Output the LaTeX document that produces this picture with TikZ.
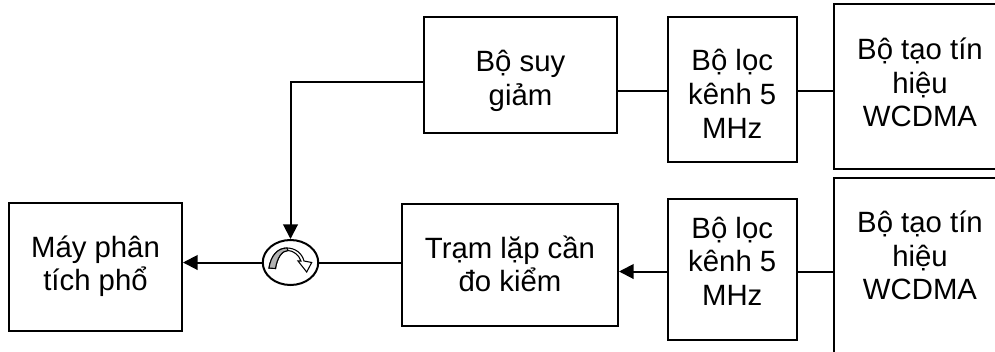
\documentclass[tikz,border=0pt]{standalone}
\usepackage{fontspec}
\setmainfont{Liberation Sans}
\usetikzlibrary{arrows.meta,shapes.geometric}
\def\px{0.75pt}
% lines of a box, first baseline #1 above the centre of the box
\newcommand{\blocktext}[2]{\raisebox{#1}[0pt][0pt]{\begin{tabular}[t]{@{}c@{}}#2\end{tabular}}}
\tikzset{
  blockbox/.style={draw, line width=1.5pt, inner sep=0pt, font=\fontsize{22}{25.3}\selectfont},
  conn/.style={line width=1.5pt},
  connarrow/.style={conn, -{Triangle[length=11pt,width=11pt]}}
}
\begin{document}
\begin{tikzpicture}[x=0.75pt,y=-0.75pt]
\useasboundingbox (0,0) rectangle (995,351);
\node[blockbox, minimum width=173*\px, minimum height=128*\px] (mach) at (95.5,267) {\blocktext{7.5pt}{Máy phân\\tích phổ}};
\node[blockbox, minimum width=216*\px, minimum height=122*\px] (tram) at (510,265) {\blocktext{5.25pt}{Trạm lặp cần\\đo kiểm}};
\node[blockbox, minimum width=193*\px, minimum height=116*\px] (suy) at (520.5,75) {\blocktext{2.4pt}{Bộ suy\\giảm}};
\node[blockbox, minimum width=129.5*\px, minimum height=145*\px] (filtA) at (732.25,89.5) {\blocktext{13.9pt}{Bộ lọc\\kênh 5\\MHz}};
\node[blockbox, minimum width=129.5*\px, minimum height=141*\px] (filtB) at (732.25,269.5) {\blocktext{23.6pt}{Bộ lọc\\kênh 5\\MHz}};
\node[blockbox, minimum width=172*\px, minimum height=165*\px] (genA) at (920,86.5) {\blocktext{20.4pt}{Bộ tạo tín\\hiệu\\WCDMA}};
\node[blockbox, minimum width=172*\px, minimum height=182*\px] (genB) at (920,269) {\blocktext{27.4pt}{Bộ tạo tín\\hiệu\\WCDMA}};
\node[draw, ellipse, line width=1.5pt, inner sep=0pt, minimum width=55.5*\px, minimum height=45*\px] (circ) at (290.5,262.5) {};
% circulator arrow
\draw[line width=0.8pt, fill=white] (269,268) .. controls (271,255) and (278,248) .. (287,248) .. controls (295,248) and (302,253) .. (304,261) -- (311.7,262.5) -- (306.7,272) -- (298,261) -- (301,261) .. controls (299,255) and (293,250.5) .. (288,250.5) .. controls (282,250.5) and (277,258) .. (275.5,268.5) -- cycle;
\draw[line width=0.8pt, fill=black!30] (269,268) .. controls (271,255) and (278,248) .. (287,248) -- (288,250.5) .. controls (282,250.5) and (277,258) .. (275.5,268.5) -- cycle;
% connectors
\coordinate (cornerA) at (290.5,82);
\coordinate (lineA) at (700,91);
\coordinate (lineB) at (700,271.5);
\draw[connarrow] (suy.west |- cornerA) -- (cornerA) -- (circ.north);
\draw[connarrow] (circ.west) -- (circ.west -| mach.east);
\draw[conn] (tram.west |- circ.east) -- (circ.east);
\draw[conn] (suy.east |- lineA) -- (filtA.west |- lineA);
\draw[conn] (filtA.east |- lineA) -- (genA.west |- lineA);
\draw[connarrow] (filtB.west |- lineB) -- (tram.east |- lineB);
\draw[conn] (filtB.east |- lineB) -- (genB.west |- lineB);
\end{tikzpicture}
\end{document}
